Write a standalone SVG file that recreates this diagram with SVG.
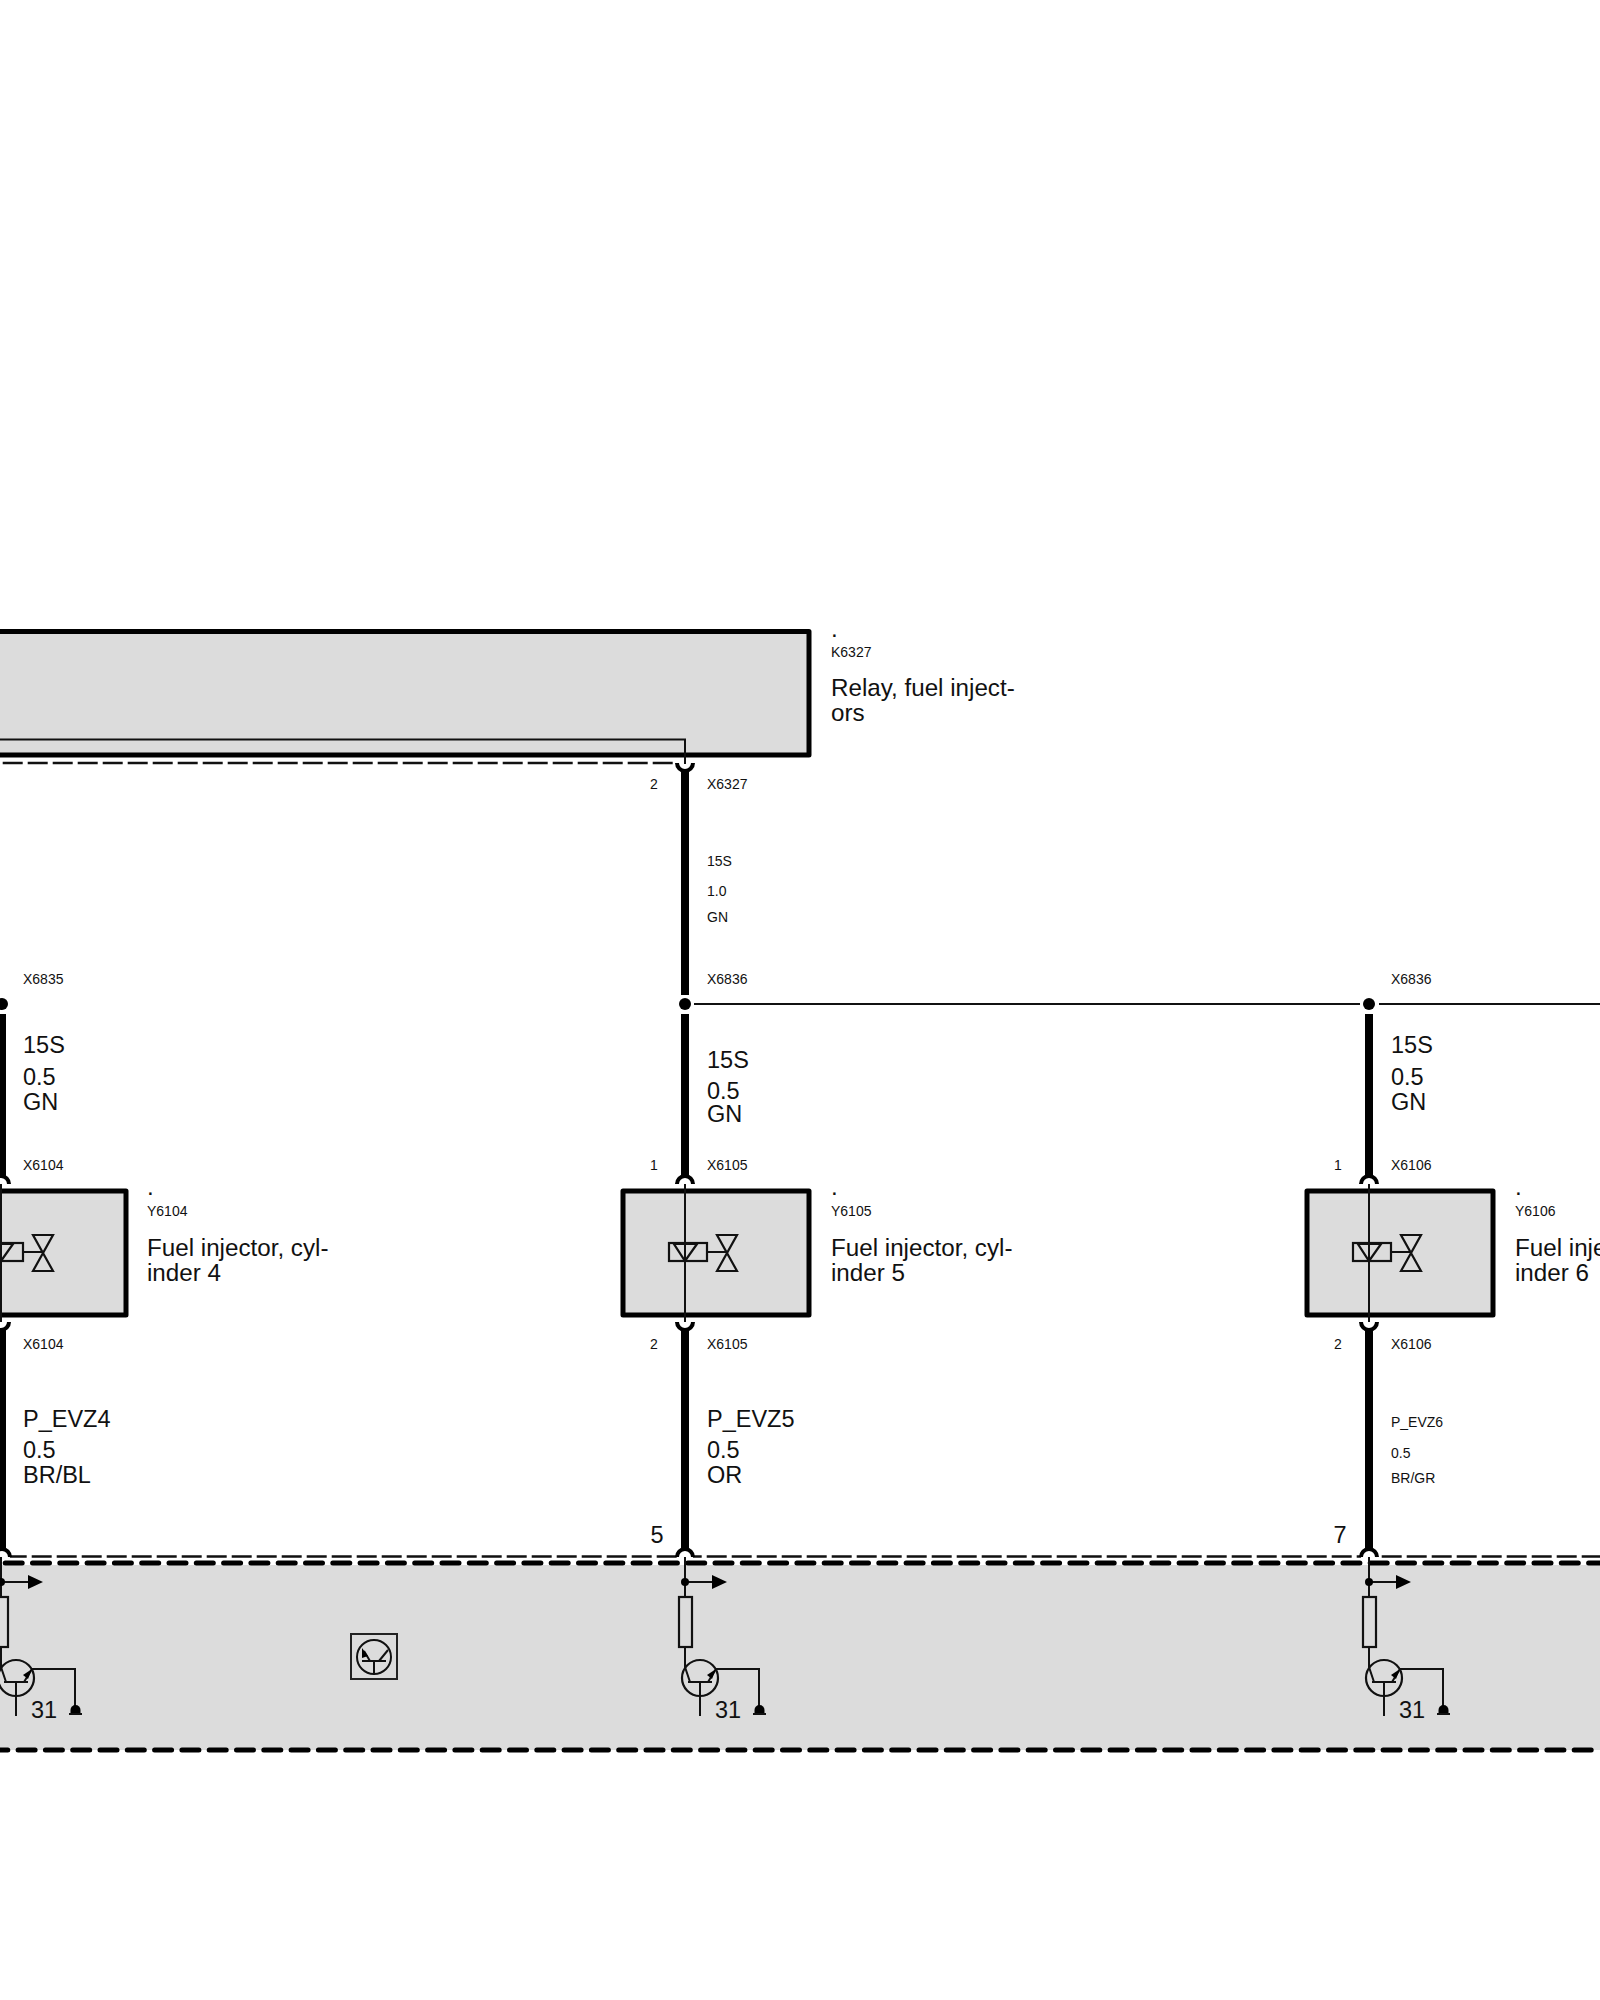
<svg xmlns="http://www.w3.org/2000/svg" width="1600" height="2000" viewBox="0 0 1600 2000">
<style>
text{font-family:"Liberation Sans",Arial,sans-serif;fill:#111}
.s{font-size:14px}.l{font-size:23.5px}.d{font-size:24.2px}
.box{fill:#dcdcdc;stroke:#000;stroke-width:5;stroke-linejoin:round}
.wire{fill:none;stroke:#000;stroke-width:8}
.thin{fill:none;stroke:#111;stroke-width:2}
.sym{fill:none;stroke:#111;stroke-width:2.2}
.arc{fill:none;stroke:#000;stroke-width:4}
.dot{fill:#000}
.halo{fill:#fff}
.tdash{fill:none;stroke:#111;stroke-width:2.4;stroke-dasharray:20 5}
.bdash{fill:none;stroke:#000;stroke-width:5;stroke-linecap:round;stroke-dasharray:17 10.3}
</style>
<defs>
<g id="inj">
<path class="halo" d="M-8 -68a8 8 0 0 1 16 0ZM-8 70a8 8 0 0 0 16 0Z"/>
<path class="thin" d="M0 -68V70"/>
<rect class="sym" x="-16" y="-9" width="38" height="18"/>
<path class="sym" d="M-11 -8H12L0 9ZM22 0H42M32 -17H52L32 19H52Z"/>
<path class="arc" d="M-8 -68a8 8 0 0 1 16 0M-8 70a8 8 0 0 0 16 0"/>
</g>
<g id="drv">
<path class="thin" d="M0 1557V1597M0 1647V1667L5 1682M23 1682L31 1669H74V1708M15 1682V1716M3 1682H27M0 1582H28"/>
<circle class="dot" cx="0" cy="1582" r="4"/>
<path class="dot" d="M27 1575L42 1582L27 1589Z"/>
<rect class="sym" x="-6" y="1597" width="13" height="50"/>
<circle class="sym" cx="15" cy="1678" r="18"/>
<path class="dot" d="M31 1669L27 1679L22 1675Z"/>
<path class="dot" d="M69.500 1710a5 5 0 0 1 10 0v3h-10Z"/>
<path class="thin" d="M68 1714H81"/>
<text class="l" x="30" y="1718">31</text>
</g>
</defs>
<g id="module-k6327">
<rect class="box" x="-20" y="631.500" width="829" height="123.500"/>
<path class="thin" d="M0 739.500H685V763"/>
<text class="d" x="831" y="637">.</text>
<text class="s" x="831" y="657">K6327</text>
<text class="d" x="831" y="696">Relay, fuel inject-</text>
<text class="d" x="831" y="721">ors</text>
</g>
<g id="module-ecu">
<rect x="0" y="1565" width="1600" height="185" fill="#dcdcdc"/>
<path class="bdash" d="M-22.100 1563H1600"/>
<path class="bdash" d="M-9.200 1750H1600"/>
<path class="tdash" d="M6.700 1556.500H1600"/>
<rect x="351" y="1634" width="46" height="45" fill="none" stroke="#222" stroke-width="2"/>
<circle cx="374" cy="1657" r="17" fill="none" stroke="#111" stroke-width="2"/>
<path d="M362 1661H386M374 1661V1675M364 1651L370 1661M388 1650L379 1661" fill="none" stroke="#111" stroke-width="2"/>
<path class="dot" d="M362 1648L368 1656L362 1658Z"/>
</g>
<g id="shield-k6327">
<path class="tdash" d="M-22.300 763H673"/>
</g>
<g id="connectors">
<path class="wire" d="M685 771V995M685 1014V1177M685 1330V1549"/>
<path class="wire" d="M2 1014V1177M2 1330V1549"/>
<path class="wire" d="M1369 1014V1177M1369 1330V1549"/>
<path class="thin" d="M694 1004H1360M1379 1004H1600"/>
<path class="halo" d="M677 759H693V763a8 8 0 0 1 -16 0Z"/>
<path class="thin" d="M685 740V764"/>
<path class="arc" d="M677 763a8 8 0 0 0 16 0"/>
<circle class="dot" cx="685" cy="1004" r="6"/>
<circle class="dot" cx="2" cy="1004" r="6"/>
<circle class="dot" cx="1369" cy="1004" r="6"/>
<path class="halo" d="M-6 1558a8 8 0 0 1 16 0ZM677 1558a8 8 0 0 1 16 0ZM1361 1558a8 8 0 0 1 16 0Z"/>
<path class="arc" d="M-6 1557a8 8 0 0 1 16 0M677 1557a8 8 0 0 1 16 0M1361 1557a8 8 0 0 1 16 0"/>
<text class="s" x="707" y="789">X6327</text>
<text class="s" x="654" y="789" text-anchor="middle">2</text>
<text class="s" x="707" y="866">15S</text>
<text class="s" x="707" y="896">1.0</text>
<text class="s" x="707" y="922">GN</text>
</g>
<g id="node-y6104">
<rect class="box" x="-60" y="1191" width="186" height="124"/>
<use href="#inj" x="1" y="1252"/>
<text class="d" x="147" y="1195">.</text>
<text class="s" x="147" y="1216">Y6104</text>
<text class="d" x="147" y="1256">Fuel injector, cyl-</text>
<text class="d" x="147" y="1281">inder 4</text>
<text class="s" x="23" y="984">X6835</text>
<text class="l" x="23" y="1053">15S</text>
<text class="l" x="23" y="1085">0.5</text>
<text class="l" x="23" y="1110">GN</text>
<text class="s" x="23" y="1170">X6104</text>
<text class="s" x="23" y="1349">X6104</text>
<text class="l" x="23" y="1427">P_EVZ4</text>
<text class="l" x="23" y="1458">0.5</text>
<text class="l" x="23" y="1483">BR/BL</text>
<use href="#drv" x="1" y="0"/>
</g>
<g id="node-y6105">
<rect class="box" x="623" y="1191" width="186" height="124"/>
<use href="#inj" x="685" y="1252"/>
<text class="d" x="831" y="1195">.</text>
<text class="s" x="831" y="1216">Y6105</text>
<text class="d" x="831" y="1256">Fuel injector, cyl-</text>
<text class="d" x="831" y="1281">inder 5</text>
<text class="s" x="707" y="984">X6836</text>
<text class="l" x="707" y="1068">15S</text>
<text class="l" x="707" y="1099">0.5</text>
<text class="l" x="707" y="1122">GN</text>
<text class="s" x="654" y="1170" text-anchor="middle">1</text>
<text class="s" x="707" y="1170">X6105</text>
<text class="s" x="654" y="1349" text-anchor="middle">2</text>
<text class="s" x="707" y="1349">X6105</text>
<text class="l" x="707" y="1427">P_EVZ5</text>
<text class="l" x="707" y="1458">0.5</text>
<text class="l" x="707" y="1483">OR</text>
<text class="l" x="657" y="1543" text-anchor="middle">5</text>
<use href="#drv" x="685" y="0"/>
</g>
<g id="node-y6106">
<rect class="box" x="1307" y="1191" width="186" height="124"/>
<use href="#inj" x="1369" y="1252"/>
<text class="d" x="1515" y="1195">.</text>
<text class="s" x="1515" y="1216">Y6106</text>
<text class="d" x="1515" y="1256">Fuel injector, cyl-</text>
<text class="d" x="1515" y="1281">inder 6</text>
<text class="s" x="1391" y="984">X6836</text>
<text class="l" x="1391" y="1053">15S</text>
<text class="l" x="1391" y="1085">0.5</text>
<text class="l" x="1391" y="1110">GN</text>
<text class="s" x="1338" y="1170" text-anchor="middle">1</text>
<text class="s" x="1391" y="1170">X6106</text>
<text class="s" x="1338" y="1349" text-anchor="middle">2</text>
<text class="s" x="1391" y="1349">X6106</text>
<text class="s" x="1391" y="1427">P_EVZ6</text>
<text class="s" x="1391" y="1458">0.5</text>
<text class="s" x="1391" y="1483">BR/GR</text>
<text class="l" x="1340" y="1543" text-anchor="middle">7</text>
<use href="#drv" x="1369" y="0"/>
</g>
</svg>
